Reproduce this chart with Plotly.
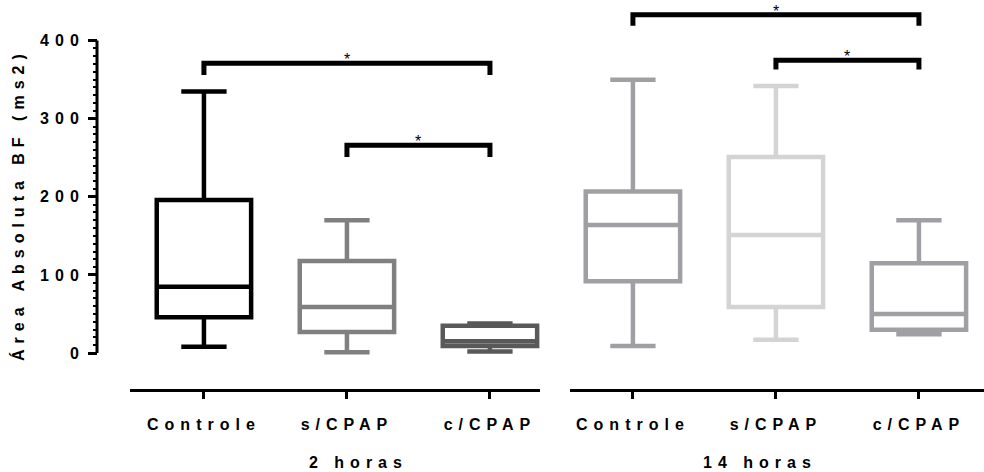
import plotly.graph_objects as go

# Groups and categories
categories = ["Controle", "s/CPAP", "c/CPAP"]
group_labels = ["2 horas", "14 horas"]

# Box statistics, 2 horas
q1_2h = [46, 27, 9]
median_2h = [85, 59, 15]
q3_2h = [196, 118, 35]
lower_2h = [8, 1, 2]
upper_2h = [335, 170, 38]

# Box statistics, 14 horas
q1_14h = [92, 59, 30]
median_14h = [164, 151, 50]
q3_14h = [207, 251, 115]
lower_14h = [9, 17, 24]
upper_14h = [350, 342, 170]

colors_2h = ["#000000", "#808080", "#595959"]
colors_14h = ["#a0a0a4", "#d4d4d4", "#a0a0a4"]

# Significance brackets: (axis, from category, to category, height, drop)
brackets = [
    ("x", "Controle", "c/CPAP", 371, 15),
    ("x", "s/CPAP", "c/CPAP", 266, 15),
    ("x2", "Controle", "c/CPAP", 433, 14),
    ("x2", "s/CPAP", "c/CPAP", 375, 12),
]

y_ticks = [0, 100, 200, 300, 400]
y_minor = [v for v in range(10, 400, 10) if v % 100 != 0]

FONT = "Liberation Sans, Arial, sans-serif"
LABEL_FONT = dict(family=FONT, size=16, color="black", weight="bold")

fig = go.Figure()

for ax, q1, med, q3, lo, hi, cols in [
    ("x", q1_2h, median_2h, q3_2h, lower_2h, upper_2h, colors_2h),
    ("x2", q1_14h, median_14h, q3_14h, lower_14h, upper_14h, colors_14h),
]:
    for i, cat in enumerate(categories):
        fig.add_trace(go.Box(
            x=[cat], q1=[q1[i]], median=[med[i]], q3=[q3[i]],
            lowerfence=[lo[i]], upperfence=[hi[i]],
            width=0.66, whiskerwidth=0.48,
            line=dict(color=cols[i], width=4.5),
            fillcolor="white", boxpoints=False,
            xaxis=ax, yaxis="y", hoverinfo="skip",
        ))

for ax, c0, c1, h, d in brackets:
    fig.add_trace(go.Scatter(
        x=[c0, c0, c1, c1], y=[h - d, h, h, h - d],
        mode="lines", line=dict(color="black", width=5),
        xaxis=ax, yaxis="y", hoverinfo="skip",
    ))
    xpos = (categories.index(c0) + categories.index(c1)) / 2
    fig.add_annotation(
        x=xpos, y=h, xref=ax, yref="y", text="*", showarrow=False,
        yanchor="bottom", yshift=-7, font=dict(family=FONT, size=16, color="black"),
    )

# Group labels under each axis
fig.add_annotation(x=(358 - 97) / 887, y=(389 - 462) / 389, xref="paper", yref="paper",
                   text=group_labels[0], showarrow=False, xanchor="center", yanchor="middle",
                   font=LABEL_FONT)
fig.add_annotation(x=(760 - 97) / 887, y=(389 - 462) / 389, xref="paper", yref="paper",
                   text=group_labels[1], showarrow=False, xanchor="center", yanchor="middle",
                   font=LABEL_FONT)

# Y-axis title
fig.add_annotation(x=(18 - 97) / 887, y=(389 - 205) / 389, xref="paper", yref="paper",
                   text="Área Absoluta BF (ms2)", textangle=-90, showarrow=False,
                   xanchor="center", yanchor="middle", font=LABEL_FONT)

# Y-axis spine only spans 0..400
fig.add_shape(type="line", xref="paper", x0=0, x1=0, yref="y", y0=0, y1=400,
              line=dict(color="black", width=3))

xcommon = dict(
    type="category", categoryarray=categories, categoryorder="array",
    showline=True, linecolor="black", linewidth=3,
    ticks="outside", ticklen=7, tickwidth=3, tickcolor="black",
    showgrid=False, zeroline=False, anchor="y",
    tickfont=LABEL_FONT,
    ticklabelstandoff=12,
)

fig.update_layout(
    width=984, height=472,
    margin=dict(l=97, r=0, t=0, b=83),
    paper_bgcolor="white", plot_bgcolor="white",
    showlegend=False, boxmode="overlay",
    xaxis=dict(domain=[(130 - 97) / 887, (540 - 97) / 887], range=[-0.517, 2.35], **xcommon),
    xaxis2=dict(domain=[(570 - 97) / 887, 1.0], range=[-0.44, 2.455], **xcommon),
    yaxis=dict(
        range=[-46, 452], anchor="free", position=0,
        showline=False, showgrid=False, zeroline=False,
        tickvals=y_ticks, ticks="outside", ticklen=9, tickwidth=3, tickcolor="black",
        tickfont=LABEL_FONT,
        ticklabelstandoff=0,
        minor=dict(tickvals=y_minor, ticks="outside", ticklen=4, tickwidth=2,
                   tickcolor="black", showgrid=False),
    ),
)

post = """
var gd = document.getElementById('{plot_id}');
function spread() {
  gd.querySelectorAll('.xtick text, .x2tick text, .ytick text, .annotation-text').forEach(function (el) {
    if (el.textContent.trim() !== '*') { el.style.letterSpacing = '6px'; }
  });
}
spread();
gd.on('plotly_afterplot', spread);
"""

fig.write_html("out.html", post_script=post)
